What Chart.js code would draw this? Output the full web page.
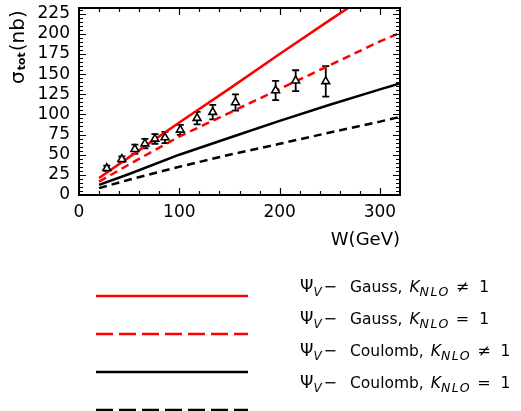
<!DOCTYPE html>
<html><head><meta charset="utf-8">
<script src="https://cdn.jsdelivr.net/npm/chart.js@4/dist/chart.umd.min.js"></script>
<style>html,body{margin:0;padding:0;background:#fff}#wrap{width:521px;height:411px;position:relative}</style>
</head><body><div id="wrap"><canvas id="c" width="521" height="411"></canvas></div>
<script>
// ---- data ----
const W_data = [27.7, 42.7, 55.7, 65.7, 75.7, 85.7, 101, 117.7, 133.3, 156, 196, 216, 246];
const sigma_data = [33.2, 44.4, 56.8, 63.8, 69.6, 71.3, 80.8, 95.4, 102.8, 114.8, 129.7, 141.8, 141];
const sigma_err = [3.3, 3.5, 5.8, 5.8, 6, 7, 6.2, 7.7, 9, 10, 12, 13, 19];
const W_curve = [20, 50, 100, 150, 200, 250, 300, 320];
const gaussK = [21, 47, 90, 132, 175, 217, 258, 274];
const gaussK1 = [16.5, 38, 72.5, 102, 131.5, 161, 190.5, 201];
const coulK = [12.5, 26, 50, 71, 92, 112, 131, 138.5];
const coulK1 = [8.5, 19, 35, 50, 63.5, 77.5, 91, 97];
const xTicks = [0, 100, 200, 300];
const yTicks = [0, 25, 50, 75, 100, 125, 150, 175, 200, 225];
const seriesModels = ["Gauss,", "Gauss,", "Coulomb,", "Coulomb,"];
const seriesRelations = ["≠", "=", "≠", "="];
const seriesLabels = ["Ψ_V− Gauss, K_NLO ≠ 1", "Ψ_V− Gauss, K_NLO = 1", "Ψ_V− Coulomb, K_NLO ≠ 1", "Ψ_V− Coulomb, K_NLO = 1"];
const xTitle = "W(GeV)";

const pts = (xs, ys) => xs.map((x, i) => ({x: x, y: ys[i]}));
const FONT = "'DejaVu Sans', sans-serif";

const curveStyles = [
  {color: '#ff0000', dash: []},
  {color: '#ff0000', dash: [8, 5]},
  {color: '#000000', dash: []},
  {color: '#000000', dash: [8, 5]}
];
const curveData = [gaussK, gaussK1, coulK, coulK1];

const datasets = curveData.map((d, i) => ({
  label: seriesLabels[i], data: pts(W_curve, d), showLine: true,
  borderColor: curveStyles[i].color, borderDash: curveStyles[i].dash, borderWidth: 2.5,
  pointRadius: 0, fill: false, tension: 0, order: 2
}));
datasets.push({
  label: 'data', data: pts(W_data, sigma_data), showLine: false,
  pointStyle: 'triangle', pointRadius: 4.5, borderColor: '#000', backgroundColor: '#fff', borderWidth: 1.6, order: 1
});

function drawLegendText(ctx, i, x0, yc) {
  ctx.fillStyle = '#000';
  ctx.textBaseline = 'middle';
  ctx.textAlign = 'left';
  let x = x0;
  const put = (t, font, dy, ls) => {
    ctx.font = font;
    ctx.letterSpacing = ls || '0px';
    ctx.fillText(t, x, yc + dy);
    const w = ctx.measureText(t).width;
    ctx.letterSpacing = '0px';
    return w;
  };
  x += put('Ψ', "17px " + FONT, 0);
  x += put('V', "italic 12px " + FONT, 5) + 2;
  x += put('−', "16px " + FONT, 0) + 13;
  x += put(seriesModels[i], "15.5px " + FONT, 0) + 7;
  x += put('K', "italic 15.5px " + FONT, 0);
  x += put('NLO', "italic 12.5px " + FONT, 5, '1.5px') + 6;
  x += put(seriesRelations[i], "16px " + FONT, 0) + 10;
  put('1', "15.5px " + FONT, 0);
}

const framePlugin = {
  id: 'frame',
  beforeDatasetsDraw(chart) {
    const {ctx, scales: {x, y}} = chart;
    const ds = chart.data.datasets[4].data;
    ctx.save();
    ctx.strokeStyle = '#000'; ctx.lineWidth = 1.8;
    ds.forEach((p, i) => {
      const px = x.getPixelForValue(p.x);
      const y1 = y.getPixelForValue(p.y - sigma_err[i]);
      const y2 = y.getPixelForValue(p.y + sigma_err[i]);
      ctx.beginPath();
      ctx.moveTo(px, y1); ctx.lineTo(px, y2);
      ctx.moveTo(px - 3.5, y1); ctx.lineTo(px + 3.5, y1);
      ctx.moveTo(px - 3.5, y2); ctx.lineTo(px + 3.5, y2);
      ctx.stroke();
    });
    ctx.restore();
  },
  afterDraw(chart) {
    const {ctx, chartArea: a, scales: {x, y}} = chart;
    ctx.save();
    ctx.strokeStyle = '#000';
    ctx.lineWidth = 2;
    ctx.strokeRect(a.left, a.top, a.right - a.left, a.bottom - a.top);
    ctx.lineWidth = 1.2;
    ctx.beginPath();
    for (let v = 5; v < y.max; v += 5) {
      const py = Math.round(y.getPixelForValue(v)) + 0.5;
      const L = v % 25 === 0 ? 7 : 4;
      ctx.moveTo(a.left, py); ctx.lineTo(a.left + L, py);
      ctx.moveTo(a.right, py); ctx.lineTo(a.right - L, py);
    }
    for (let v = 20; v < x.max; v += 20) {
      const px = Math.round(x.getPixelForValue(v)) + 0.5;
      const L = v % 100 === 0 ? 7 : 4;
      ctx.moveTo(px, a.bottom); ctx.lineTo(px, a.bottom - L);
      ctx.moveTo(px, a.top); ctx.lineTo(px, a.top + L);
    }
    ctx.stroke();

    // y title with subscript
    ctx.translate(24, 84);
    ctx.rotate(-Math.PI / 2);
    ctx.fillStyle = '#000';
    ctx.textBaseline = 'alphabetic';
    ctx.textAlign = 'left';
    ctx.font = "20px " + FONT;
    ctx.fillText('σ', 0, 0);
    let off = ctx.measureText('σ').width + 1;
    ctx.font = "bold 11px " + FONT;
    ctx.fillText('tot', off, 1);
    off += ctx.measureText('tot').width + 1;
    ctx.font = "20px " + FONT;
    ctx.fillText('(nb)', off, 0);
    ctx.restore();

    // legend
    const lineY = [296, 334, 372, 410];
    const textY = [288, 320, 352, 384];
    ctx.save();
    chart.data.datasets.slice(0, 4).forEach((ds, i) => {
      ctx.strokeStyle = ds.borderColor;
      ctx.lineWidth = 2.5;
      ctx.setLineDash(ds.borderDash.length ? [17, 6] : []);
      ctx.beginPath();
      ctx.moveTo(96, lineY[i]); ctx.lineTo(248, lineY[i]);
      ctx.stroke();
      drawLegendText(ctx, i, 300, textY[i]);
    });
    ctx.restore();
  }
};

new Chart(document.getElementById('c'), {
  type: 'scatter',
  data: {datasets: datasets},
  options: {
    responsive: false, animation: false, devicePixelRatio: 1,
    layout: {padding: {left: 0, right: 121, top: 8, bottom: 156}},
    plugins: {legend: {display: false}, tooltip: {enabled: false}},
    scales: {
      x: {
        type: 'linear', min: 0, max: 320,
        afterBuildTicks: s => { s.ticks = xTicks.map(v => ({value: v})); },
        afterFit: s => { s.height = 60; s.paddingLeft = 0; s.paddingRight = 0; },
        grid: {display: false, drawTicks: false},
        border: {display: false},
        ticks: {padding: 7, color: '#000', autoSkip: false, font: {family: "DejaVu Sans", size: 17}, maxRotation: 0},
        title: {display: true, text: xTitle, align: 'end', color: '#000', font: {family: "DejaVu Sans", size: 18}, padding: {top: 0, bottom: 4}}
      },
      y: {
        type: 'linear', min: 0, max: 232,
        afterBuildTicks: s => { s.ticks = yTicks.map(v => ({value: v})); },
        afterFit: s => { s.width = 79; s.paddingTop = 0; s.paddingBottom = 0; },
        grid: {display: false, drawTicks: false},
        border: {display: false},
        ticks: {padding: 9, color: '#000', autoSkip: false, font: {family: "DejaVu Sans", size: 17}}
      }
    }
  },
  plugins: [framePlugin]
});
</script></body></html>
